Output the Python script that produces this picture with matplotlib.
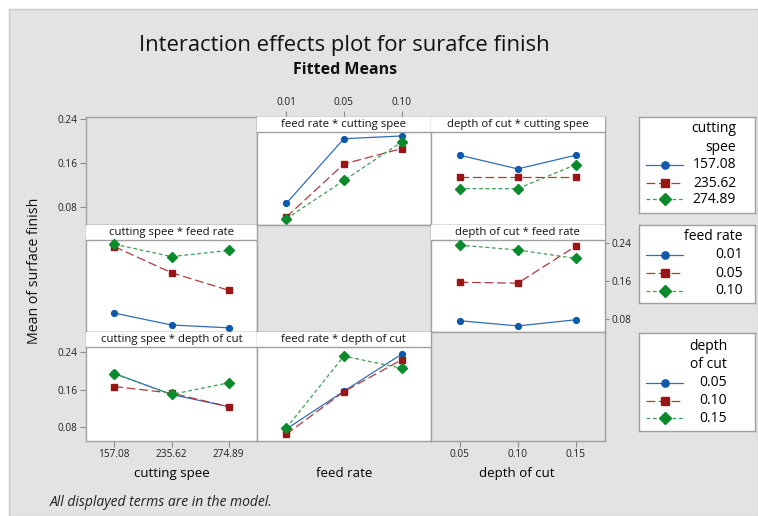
import matplotlib
matplotlib.use("Agg")
import matplotlib.pyplot as plt
from matplotlib.patches import Rectangle

plt.rcParams['font.family'] = ['Open Sans', 'DejaVu Sans']

# ---------------- data ----------------
cutting_speed = ["157.08", "235.62", "274.89"]
feed_rate = ["0.01", "0.05", "0.10"]
depth_of_cut = ["0.05", "0.10", "0.15"]
y_ticks = [0.08, 0.16, 0.24]

# x = feed rate, lines = cutting speed
fr_by_cs = {"157.08": [0.087, 0.205, 0.210],
            "235.62": [0.062, 0.159, 0.187],
            "274.89": [0.059, 0.129, 0.199]}
# x = depth of cut, lines = cutting speed
doc_by_cs = {"157.08": [0.175, 0.150, 0.175],
             "235.62": [0.135, 0.135, 0.135],
             "274.89": [0.114, 0.114, 0.158]}
# x = cutting speed, lines = feed rate
cs_by_fr = {"0.01": [0.093, 0.068, 0.062],
            "0.05": [0.233, 0.178, 0.141],
            "0.10": [0.238, 0.212, 0.225]}
# x = depth of cut, lines = feed rate
doc_by_fr = {"0.01": [0.077, 0.066, 0.079],
             "0.05": [0.158, 0.156, 0.234],
             "0.10": [0.236, 0.226, 0.208]}
# x = cutting speed, lines = depth of cut
cs_by_doc = {"0.05": [0.195, 0.150, 0.124],
             "0.10": [0.167, 0.153, 0.124],
             "0.15": [0.194, 0.150, 0.175]}
# x = feed rate, lines = depth of cut
fr_by_doc = {"0.05": [0.076, 0.157, 0.236],
             "0.10": [0.065, 0.156, 0.224],
             "0.15": [0.078, 0.232, 0.206]}

# ---------------- styles ----------------
W, H = 758, 516
BG = '#E3E3E3'
BORDER = '#A0A0A0'
styles = [dict(color='#0B5AAE', line='#2F6DB8', marker='o', ms=4.2, ls='-', lw=0.9),
          dict(color='#9A1515', line='#B03A3A', marker='s', ms=4.6, ls=(0, (7, 3)), lw=0.9),
          dict(color='#0A8A2A', line='#3C9E52', marker='D', ms=4.8, ls=(0, (3, 2.2)), lw=0.9)]


def fx(px):
    return px / W


def fy(py):
    return 1 - py / H


fig = plt.figure(figsize=(W / 100, H / 100), dpi=100)
fig.patch.set_facecolor('white')
fig.add_artist(Rectangle((fx(9), 0), 1 - fx(9), fy(9), transform=fig.transFigure,
                         facecolor=BG, edgecolor='#C8C8C8', lw=1, zorder=-10))

cols = [(85.7, 257.3), (257.3, 430.5), (430.5, 605.0)]
rows = [(116.7, 225.0), (225.0, 332.3), (332.3, 440.7)]
row_lims = [(0.0478, 0.2451), (0.0526, 0.2785), (0.0514, 0.2827)]
STRIP = 15.0

panels = {
    (0, 1): ("feed rate * cutting spee", fr_by_cs),
    (0, 2): ("depth of cut * cutting spee", doc_by_cs),
    (1, 0): ("cutting spee * feed rate", cs_by_fr),
    (1, 2): ("depth of cut * feed rate", doc_by_fr),
    (2, 0): ("cutting spee * depth of cut", cs_by_doc),
    (2, 1): ("feed rate * depth of cut", fr_by_doc),
}

axes = {}
for r, (y0, y1) in enumerate(rows):
    for c, (x0, x1) in enumerate(cols):
        ax = fig.add_axes([fx(x0), fy(y1), (x1 - x0) / W, (y1 - y0) / H])
        ax.set_xlim(0.5, 3.5)
        ax.set_ylim(*row_lims[r])
        for s in ax.spines.values():
            s.set_color(BORDER)
            s.set_linewidth(1.0)
        ax.set_xticks([])
        ax.set_yticks([])
        ax.tick_params(length=4, width=0.8, color='#8C8C8C', labelsize=7.3,
                       pad=2, labelcolor='#222222')
        if (r, c) in panels:
            title, series = panels[(r, c)]
            ax.set_facecolor('white')
            h = STRIP / (y1 - y0)
            ax.add_patch(Rectangle((0, 1 - h), 1, h, transform=ax.transAxes,
                                   facecolor='white', edgecolor='none', zorder=3))
            ax.plot([0, 1], [1 - h, 1 - h], transform=ax.transAxes, color=BORDER,
                    lw=1.0, zorder=4, clip_on=False)
            ax.text(0.5, 1 - h / 2, title, transform=ax.transAxes, ha='center',
                    va='center', fontsize=8.2, color='#111111', zorder=5)
            for i, (name, vals) in enumerate(series.items()):
                st = styles[i]
                ax.plot([1, 2, 3], vals, color=st['line'], ls=st['ls'], lw=st['lw'],
                        zorder=6 + i)
                ax.plot([1, 2, 3], vals, ls='none', marker=st['marker'], ms=st['ms'],
                        mec=st['color'], mfc=st['color'], zorder=6 + i)
        else:
            ax.set_facecolor(BG)
        axes[(r, c)] = ax

ylabels = ["%.2f" % v for v in y_ticks]
# left axes
for key in [(0, 0), (2, 0)]:
    ax = axes[key]
    ax.set_yticks(y_ticks)
    ax.set_yticklabels(ylabels)
# right axis, middle row
ax = axes[(1, 2)]
ax.yaxis.tick_right()
ax.set_yticks(y_ticks)
ax.set_yticklabels(ylabels)
ax.tick_params(axis='y', length=3)
# top axis, feed rate column
ax = axes[(0, 1)]
ax.xaxis.tick_top()
ax.set_xticks([1, 2, 3])
ax.set_xticklabels(feed_rate)
# bottom axes
ax = axes[(2, 0)]
ax.set_xticks([1, 2, 3])
ax.set_xticklabels(cutting_speed)
ax = axes[(2, 2)]
ax.set_xticks([1, 2, 3])
ax.set_xticklabels(depth_of_cut)

# axis titles
fig.text(fx(171.7), fy(473.3), "cutting spee", ha='center', va='center', fontsize=9.5)
fig.text(fx(344.0), fy(473.3), "feed rate", ha='center', va='center', fontsize=9.5)
fig.text(fx(517.0), fy(473.3), "depth of cut", ha='center', va='center', fontsize=9.5)
fig.text(fx(35), fy(271), "Mean of surface finish", rotation=90, ha='center',
         va='center', fontsize=10.2, color='#111111')

# titles
fig.text(fx(344), fy(45), "Interaction effects plot for surafce finish", ha='center',
         va='center', fontsize=15.8, color='#111111')
fig.text(fx(345), fy(70), "Fitted Means", ha='center', va='center', fontsize=11.5,
         fontweight='bold', color='#111111')
fig.text(fx(50), fy(503), "All displayed terms are in the model.", ha='left',
         va='center', fontsize=10, style='italic', color='#222222')

# legends
legends = [
    dict(box=(116.7, 212.7), title=["cutting", "spee"], title_y=[128.3, 147.7],
         labels=cutting_speed, y=[165.0, 183.3, 199.3], right=736),
    dict(box=(225.3, 303.3), title=["feed rate"], title_y=[236.7],
         labels=feed_rate, y=[255.0, 273.3, 291.0], right=743),
    dict(box=(332.7, 430.7), title=["depth", "of cut"], title_y=[346.7, 364.3],
         labels=depth_of_cut, y=[382.7, 401.0, 418.3], right=727),
]
LX0, LX1 = 639.3, 755.3
for lg in legends:
    by0, by1 = lg['box']
    lax = fig.add_axes([fx(LX0), fy(by1), (LX1 - LX0) / W, (by1 - by0) / H])
    lax.set_xlim(LX0, LX1)
    lax.set_ylim(by1, by0)
    lax.set_xticks([])
    lax.set_yticks([])
    lax.set_facecolor('white')
    for s in lax.spines.values():
        s.set_color(BORDER)
        s.set_linewidth(1.0)
    for t, ty in zip(lg['title'], lg['title_y']):
        lax.text(lg['right'], ty, t, ha='right', va='center', fontsize=10)
    for i, (lab, yy) in enumerate(zip(lg['labels'], lg['y'])):
        st = styles[i]
        lax.plot([645.7, 683.3], [yy, yy], color=st['line'], ls=st['ls'], lw=st['lw'])
        lax.plot([665.0], [yy], color=st['color'], marker=st['marker'],
                 ms=st['ms'] * 1.25, ls='none')
        lax.text(lg['right'], yy, lab, ha='right', va='center', fontsize=10)

fig.savefig("out.png", dpi=100, facecolor=fig.get_facecolor())
